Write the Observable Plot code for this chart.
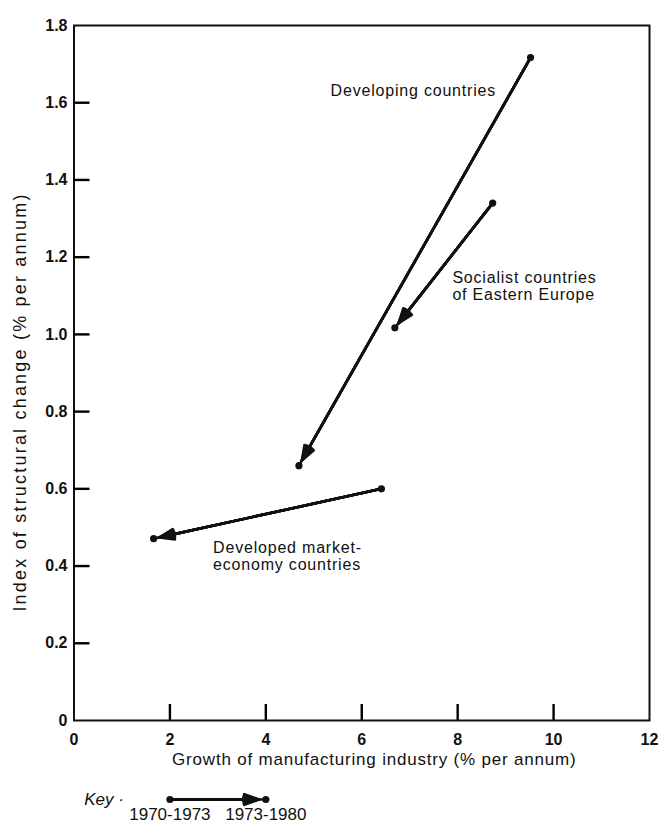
<!DOCTYPE html>
<html><head><meta charset="utf-8">
<script src="https://cdn.jsdelivr.net/npm/d3@7"></script>
<script src="https://cdn.jsdelivr.net/npm/@observablehq/plot@0.6"></script>
<style>
body{margin:0;background:#fff;}
#chart svg{display:block;}
</style></head><body><div id="chart"></div>
<script>
// ---- data ----
const series = ["Developing countries", "Socialist countries of Eastern Europe", "Developed market-economy countries"];
const x1970 = [9.52, 8.73, 6.41];   // growth, 1970-1973
const y1970 = [1.717, 1.34, 0.60];  // structural change, 1970-1973
const x1980 = [4.69, 6.69, 1.66];   // growth, 1973-1980
const y1980 = [0.66, 1.017, 0.471]; // structural change, 1973-1980
const xTicks = [0, 2, 4, 6, 8, 10, 12];
const yTicks = [0, 0.2, 0.4, 0.6, 0.8, 1.0, 1.2, 1.4, 1.6, 1.8];
const labelText = ["Developing countries", "Socialist countries\nof Eastern Europe", "Developed market-\neconomy countries"];
const labelX = [5.35, 7.89, 2.90];
const labelY = [1.632, 1.126, 0.427];
const xLabel = "Growth of manufacturing industry (% per annum)";
const yLabel = "Index of structural change (% per annum)";
const keyTitle = "Key ·";
const keyPeriods = ["1970-1973", "1973-1980"];
const keyX = [2, 4];

// ---- build ----
const rows = series.map((s, i) => ({s, x1: x1970[i], y1: y1970[i], x2: x1980[i], y2: y1980[i]}));
const labels = labelText.map((t, i) => ({t, x: labelX[i], y: labelY[i]}));
const xTickRows = xTicks.slice(1, -1).map(v => ({v}));
const yTickRows = yTicks.slice(1, -1).map(v => ({v}));
const font = "'Liberation Sans', Arial, Helvetica, sans-serif";
const W = 661, H = 780, ML = 73.5, MR = 12, MT = 25, MB = 60;
const FW = W - ML - MR, FH = H - MT - MB;
const xDomain = [0, 12], yDomain = [0, 1.8];
const TICK = 16; // inward tick length in pixels
const xTickLen = (yDomain[1] - yDomain[0]) * TICK / FH;
const yTickLen = (xDomain[1] - xDomain[0]) * TICK / FW;
const ink = "#111";
const heads = (data, opts) => [40, 28, 16, 6].map(a => Plot.arrow(data, {...opts, stroke: ink, strokeWidth: 2.6, headAngle: a, headLength: 9}));

const chart = Plot.plot({
  width: W, height: H,
  marginLeft: ML, marginRight: MR, marginTop: MT, marginBottom: MB,
  style: {fontFamily: font, background: "white", color: ink},
  x: {domain: xDomain, ticks: xTicks},
  y: {domain: yDomain, ticks: yTicks},
  marks: [
    Plot.frame({stroke: ink, strokeWidth: 2}),
    // tick labels
    Plot.axisX(xTicks, {tickSize: 0, tickPadding: 13, fontSize: 16, fontWeight: "bold", tickFormat: d => String(d), label: null}),
    Plot.axisY(yTicks, {tickSize: 0, tickPadding: 6.5, fontSize: 16, fontWeight: "bold", tickFormat: d => d === 0 ? "0" : d.toFixed(1), label: null}),
    // inward tick marks
    Plot.ruleX(xTickRows, {x: "v", y1: yDomain[0], y2: yDomain[0] + xTickLen, stroke: "#000", strokeWidth: 2.4}),
    Plot.ruleY(yTickRows, {y: "v", x1: xDomain[0], x2: xDomain[0] + yTickLen, stroke: "#000", strokeWidth: 2.4}),
    Plot.text([xLabel], {frameAnchor: "bottom", textAnchor: "middle", dx: 12.5, dy: 44, text: d => d, fontSize: 17, fill: ink}),
    Plot.text([yLabel], {frameAnchor: "left", textAnchor: "middle", rotate: -90, dx: -54, dy: 29, text: d => d, fontSize: 18, fill: ink}),
    Plot.link(rows, {x1: "x1", y1: "y1", x2: "x2", y2: "y2", stroke: ink, strokeWidth: 2.6}),
    ...heads(rows, {x1: "x1", y1: "y1", x2: "x2", y2: "y2", insetEnd: 6}),
    Plot.dot(rows, {x: "x1", y: "y1", r: 3.6, fill: ink}),
    Plot.dot(rows, {x: "x2", y: "y2", r: 3.6, fill: ink}),
    Plot.text(labels, {x: "x", y: "y", text: "t", textAnchor: "start", lineAnchor: "middle", fontSize: 16, lineHeight: 1.06, fill: ink})
  ]
});

// widen the texts a little, as in the printed original
const sel = d3.select(chart).selectAll("text");
sel.filter(function () { return this.textContent === xLabel; }).style("letter-spacing", "0.8px");
sel.filter(function () { return this.textContent === yLabel; }).style("letter-spacing", "2.2px");
sel.filter(function () { return labelText.some(t => t.replace("\n", "") === this.textContent); }).style("letter-spacing", "0.8px");

const keyRow = [{x1: keyX[0], x2: keyX[1]}];
const key = Plot.plot({
  width: W, height: 823 - H,
  marginLeft: ML, marginRight: MR, marginTop: 0, marginBottom: 0,
  style: {fontFamily: font, background: "white", color: ink},
  x: {domain: xDomain, axis: null},
  y: {domain: [0, 1], range: [19, 34], axis: null},
  marks: [
    Plot.link(keyRow, {x1: "x1", x2: "x2", y1: () => 0, y2: () => 0, stroke: ink, strokeWidth: 2.6}),
    ...heads(keyRow, {x1: "x1", x2: "x2", y1: () => 0, y2: () => 0, insetEnd: 7}),
    Plot.dot(keyX, {x: d => d, y: () => 0, r: 3.6, fill: ink}),
    Plot.text(keyPeriods, {x: (d, i) => keyX[i], y: () => 1, text: d => d, fontSize: 17, fill: ink}),
    Plot.text([keyTitle], {x: () => keyX[0], y: () => 0, dx: -46, textAnchor: "end", fontStyle: "italic", fontSize: 17, fill: ink})
  ]
});

document.getElementById("chart").append(chart, key);
</script>
</body></html>
